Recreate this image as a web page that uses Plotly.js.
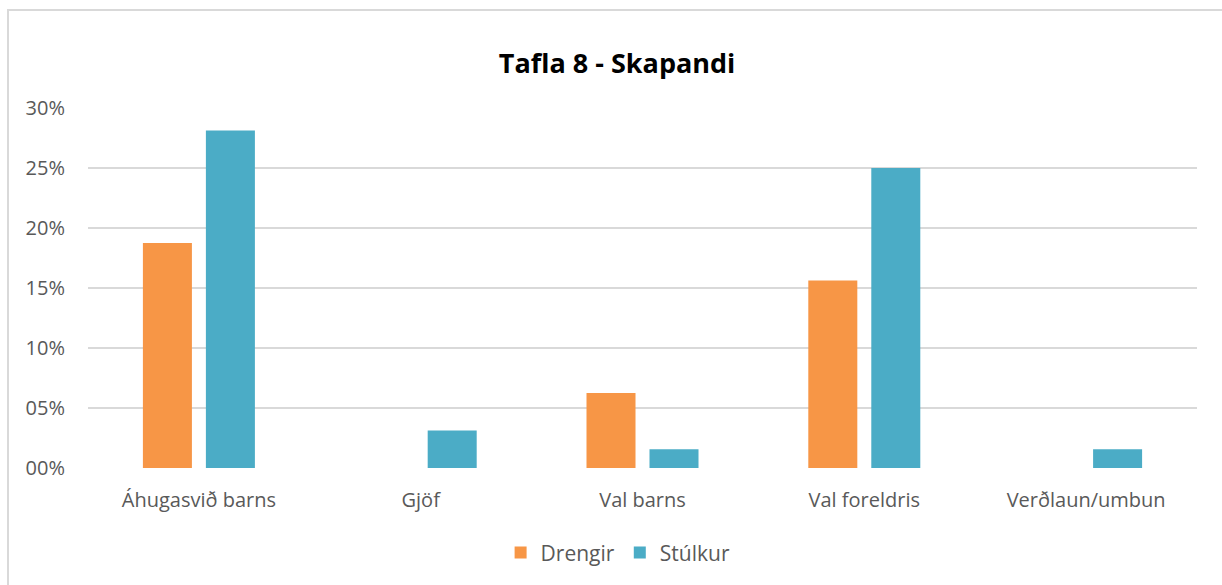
<!DOCTYPE html>
<html>
<head>
<meta charset="utf-8">
<script src="https://cdn.plot.ly/plotly-3.0.1.min.js"></script>
<style>
  html, body { margin: 0; padding: 0; overflow: hidden; background: white; }
  #chart { position: absolute; left: 0; top: 0; width: 1222px; height: 585px; }
  #frame { position: absolute; left: 7px; top: 9px; width: 1240px; height: 600px;
           border: 2px solid #d9d9d9; pointer-events: none; box-sizing: border-box; }
</style>
</head>
<body>
<div id="chart"></div>
<div id="frame"></div>
<script>
// Tafla 8 - Skapandi
const categories = ['Áhugasvið barns', 'Gjöf', 'Val barns', 'Val foreldris', 'Verðlaun/umbun'];
const drengir = [0.1875, 0, 0.0625, 0.15625, 0];
const stulkur = [0.28125, 0.03125, 0.015625, 0.25, 0.015625];
const tickValues = [0, 0.05, 0.10, 0.15, 0.20, 0.25, 0.30];
const tickLabels = ['00%', '05%', '10%', '15%', '20%', '25%', '30%'];

const textColor = '#595959';

const traces = [
    {
        name: 'Drengir',
        x: categories,
        y: drengir,
        type: 'bar',
        marker: { color: '#f79646' },
        hovertemplate: '<b>%{x}</b><br>Drengir: %{y:.1%}<extra></extra>'
    },
    {
        name: 'Stúlkur',
        x: categories,
        y: stulkur,
        type: 'bar',
        marker: { color: '#4bacc6' },
        hovertemplate: '<b>%{x}</b><br>Stúlkur: %{y:.1%}<extra></extra>'
    }
];

const layout = {
    font: { family: '"Open Sans", sans-serif', size: 20, color: textColor },
    width: 1222,
    height: 585,
    margin: { l: 88, r: 25, t: 108, b: 117 },
    paper_bgcolor: 'white',
    plot_bgcolor: 'white',
    title: {
        text: '<b>Tafla 8 - Skapandi</b>',
        x: 0.505,
        xanchor: 'center',
        y: 1 - 64 / 585,
        yanchor: 'middle',
        font: { size: 27, color: '#000000' }
    },
    barmode: 'group',
    bargap: 0.432,
    bargroupgap: 0.222,
    xaxis: {
        type: 'category',
        showgrid: false,
        showline: false,
        zeroline: false,
        ticks: '',
        ticklabelstandoff: 18,
        tickfont: { size: 20, color: textColor }
    },
    yaxis: {
        range: [0, 0.30],
        tickvals: tickValues,
        ticktext: tickLabels,
        showgrid: true,
        gridcolor: '#d9d9d9',
        gridwidth: 1.5,
        zeroline: false,
        showline: false,
        ticks: '',
        ticklabelstandoff: 22,
        tickfont: { size: 20, color: textColor }
    },
    showlegend: true,
    legend: {
        orientation: 'h',
        x: 0.478,
        xanchor: 'center',
        y: -0.236,
        yanchor: 'middle',
        font: { size: 21, color: textColor },
        itemwidth: 30
    }
};

Plotly.newPlot('chart', traces, layout, { displayModeBar: false, responsive: false });
</script>
</body>
</html>
